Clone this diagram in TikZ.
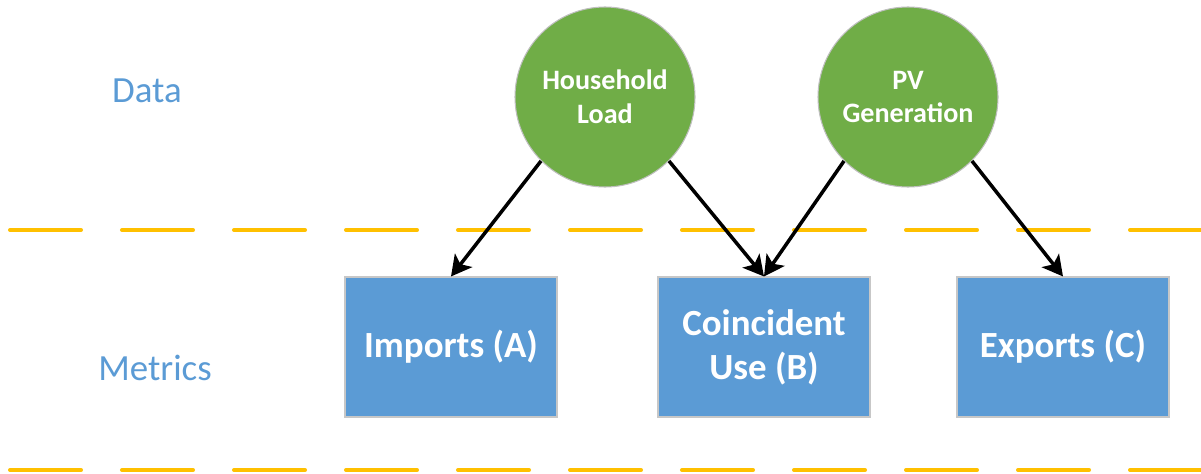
\documentclass[tikz,border=0pt]{standalone}
\usepackage{fontspec}
\setmainfont{Carlito}
\usetikzlibrary{arrows.meta}
\definecolor{leafgreen}{HTML}{70AD47}
\definecolor{skyblue}{HTML}{5B9BD5}
\definecolor{amber}{HTML}{FFC000}
\begin{document}
\begin{tikzpicture} [source/.style= {circle, minimum size=1.8cm,
                                     inner sep=0, draw=black!25,
                                     line width=0.3pt, fill=leafgreen,
                                     text=white, align=center,
                                     font=\fontsize{8}{9.6}\selectfont\bfseries},
                     metric/.style= {rectangle, minimum width=2.12cm,
                                     minimum height=1.4cm, inner sep=0,
                                     draw=black!22, line width=0.3pt,
                                     fill=skyblue, text=white, align=center,
                                     font=\fontsize{10.5}{12.6}\selectfont\bfseries},
                     tier/.style= {text=skyblue,
                                   font=\fontsize{10.5}{12.6}\selectfont},
                     lane/.style= {amber, line width=1.15pt, line cap=round,
                                   dash pattern=on 0.71cm off 0.41cm},
                     link/.style= {line width=1pt,
                                   -{Stealth[length=5.8pt,width=6.2pt,inset=1.4pt]}}]

\useasboundingbox (0,0) rectangle (12.01,4.73);

% separators
\draw[lane] (0.10,2.43) -- (12.01,2.43);
\draw[lane] (0.10,0.03) -- (12.01,0.03);

% row labels
\node[tier] (data) at (1.47,3.82) {Data};
\node[tier] (metrics) at (1.55,1.05) {Metrics};

% data sources
\node[source] (load) at (6.05,3.76) {Household\\Load};
\node[source] (pv) at (9.08,3.76) {PV\\Generation};

% metrics
\node[metric] (imports) at (4.51,1.26) {Imports (A)};
\node[metric] (coincident) at (7.64,1.26) {Coincident\\Use (B)};
\node[metric] (exports) at (10.63,1.26) {Exports (C)};

\draw[link] (load.south west) -- (imports.north);
\draw[link] (load.south east) -- (coincident.north);
\draw[link] (pv.south west) -- (coincident.north);
\draw[link] (pv.south east) -- (exports.north);

\end{tikzpicture}
\end{document}
